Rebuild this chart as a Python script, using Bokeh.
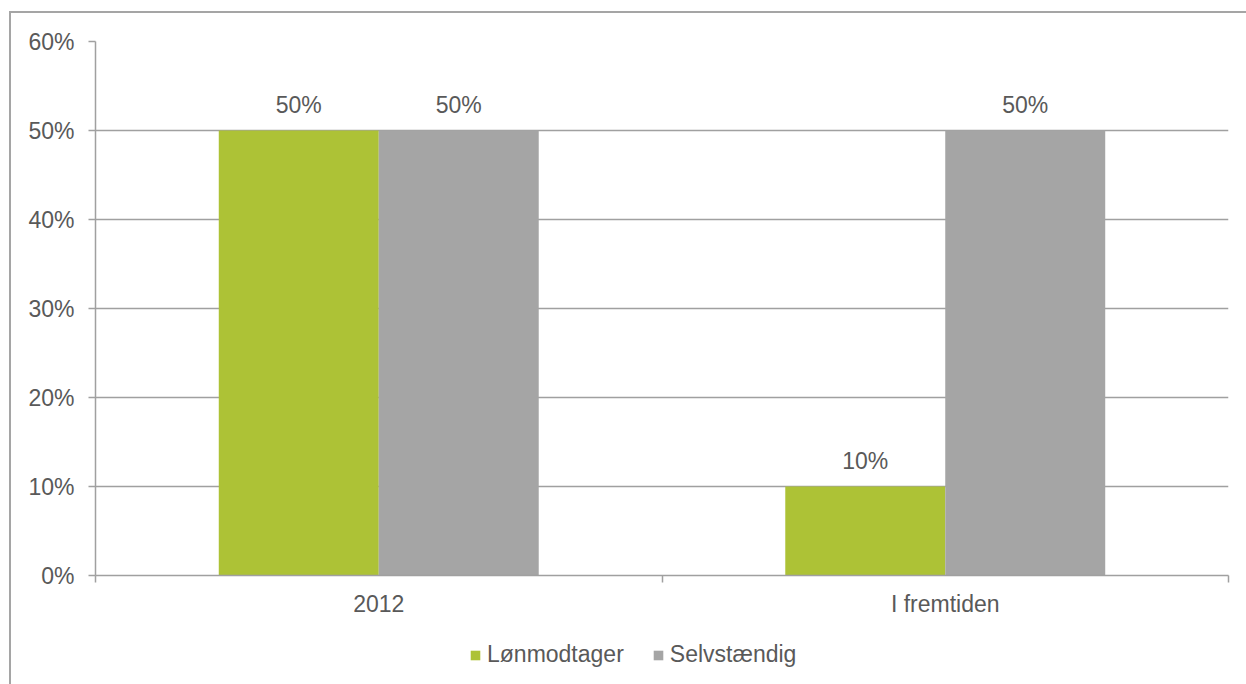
import numpy as np
from bokeh.plotting import figure
from bokeh.layouts import column
from bokeh.models import ColumnDataSource, FixedTicker, Legend, LegendItem, Range1d
from bokeh.core.properties import value
from bokeh.embed import file_html
from bokeh.resources import INLINE

categories = ["2012", "I fremtiden"]
lonmodtager = [50, 10]
selvstaendig = [50, 50]
series_names = ["Lønmodtager", "Selvstændig"]
y_ticks = [0, 10, 20, 30, 40, 50, 60]

GREEN = "#ADC236"
GRAY = "#A5A5A5"
LINE = "#A0A0A0"
TEXT = "#595959"
FONT = "Liberation Sans"
FS = "23px"

centers = np.arange(len(categories)) + 0.5
bw = 0.2824

src_a = ColumnDataSource(dict(x=centers - bw / 2, top=lonmodtager,
                              lbl=[f"{v}%" for v in lonmodtager]))
src_b = ColumnDataSource(dict(x=centers + bw / 2, top=selvstaendig,
                              lbl=[f"{v}%" for v in selvstaendig]))

p = figure(width=1246, height=625, x_range=(0, len(categories)), y_range=(0, 60),
           output_backend="svg", toolbar_location=None,
           min_border_left=95, min_border_right=18, min_border_top=41, min_border_bottom=50)
p.border_fill_color = None
p.background_fill_color = "white"
p.outline_line_color = None

ra = p.vbar(x="x", top="top", width=bw, source=src_a, fill_color=GREEN, line_color=None)
rb = p.vbar(x="x", top="top", width=bw, source=src_b, fill_color=GRAY, line_color=None)

for s in (src_a, src_b):
    p.text(x="x", y="top", text="lbl", source=s, text_align="center",
           text_baseline="alphabetic", y_offset=-26, text_color=TEXT,
           text_font=value(FONT), text_font_size=FS)

# axes
xa = p.xaxis[0]
xa.ticker = FixedTicker(ticks=list(centers), minor_ticks=list(range(len(categories) + 1)))
xa.major_label_overrides = {float(c): n for c, n in zip(centers, categories)}
xa.major_tick_out = 0
xa.major_tick_in = 0
xa.minor_tick_out = 7
xa.minor_tick_in = 0
xa.minor_tick_line_color = LINE
xa.minor_tick_line_width = 1.5
xa.axis_line_color = LINE
xa.axis_line_width = 1.5
xa.major_label_standoff = 8
xa.major_label_text_font = FONT
xa.major_label_text_font_size = FS
xa.major_label_text_color = TEXT

ya = p.yaxis[0]
ya.ticker = FixedTicker(ticks=y_ticks)
ya.major_label_overrides = {t: f"{t}%" for t in y_ticks}
ya.major_tick_out = 7
ya.major_tick_in = 0
ya.minor_tick_line_color = None
ya.major_tick_line_color = LINE
ya.major_tick_line_width = 1.5
ya.axis_line_color = LINE
ya.axis_line_width = 1.5
ya.major_label_standoff = 14
ya.major_label_text_font = FONT
ya.major_label_text_font_size = FS
ya.major_label_text_color = TEXT

p.xgrid.grid_line_color = None
p.ygrid.grid_line_color = LINE
p.ygrid.grid_line_width = 1.5
p.ygrid.ticker = FixedTicker(ticks=y_ticks)

# legend strip (its own bars fall outside its visible y range, only the legend shows)
lf = figure(width=1246, height=59, x_axis_type=None, y_axis_type=None,
            x_range=Range1d(0, len(categories)), y_range=Range1d(1000, 2000),
            output_backend="svg", toolbar_location=None, min_border=0)
lf.border_fill_color = None
lf.background_fill_color = None
lf.outline_line_color = None
lf.grid.visible = False
da = lf.vbar(x="x", top="top", width=bw, source=src_a, fill_color=GREEN, line_color=None)
db = lf.vbar(x="x", top="top", width=bw, source=src_b, fill_color=GRAY, line_color=None)

legend = Legend(items=[LegendItem(label=series_names[0], renderers=[da]),
                       LegendItem(label=series_names[1], renderers=[db])],
                orientation="horizontal", location=(374, 16),
                glyph_width=12, glyph_height=12, label_standoff=6, spacing=28,
                padding=0, margin=0, border_line_color=None, background_fill_alpha=0,
                label_text_font=FONT, label_text_font_size=FS, label_text_color=TEXT)
lf.add_layout(legend, "center")

layout = column(p, lf, spacing=0,
                styles={"box-shadow": "inset 9px 11px 0 0 white, inset 11px 13px 0 0 #A5A5A5"})

open("out.html", "w").write(file_html(layout, INLINE))
